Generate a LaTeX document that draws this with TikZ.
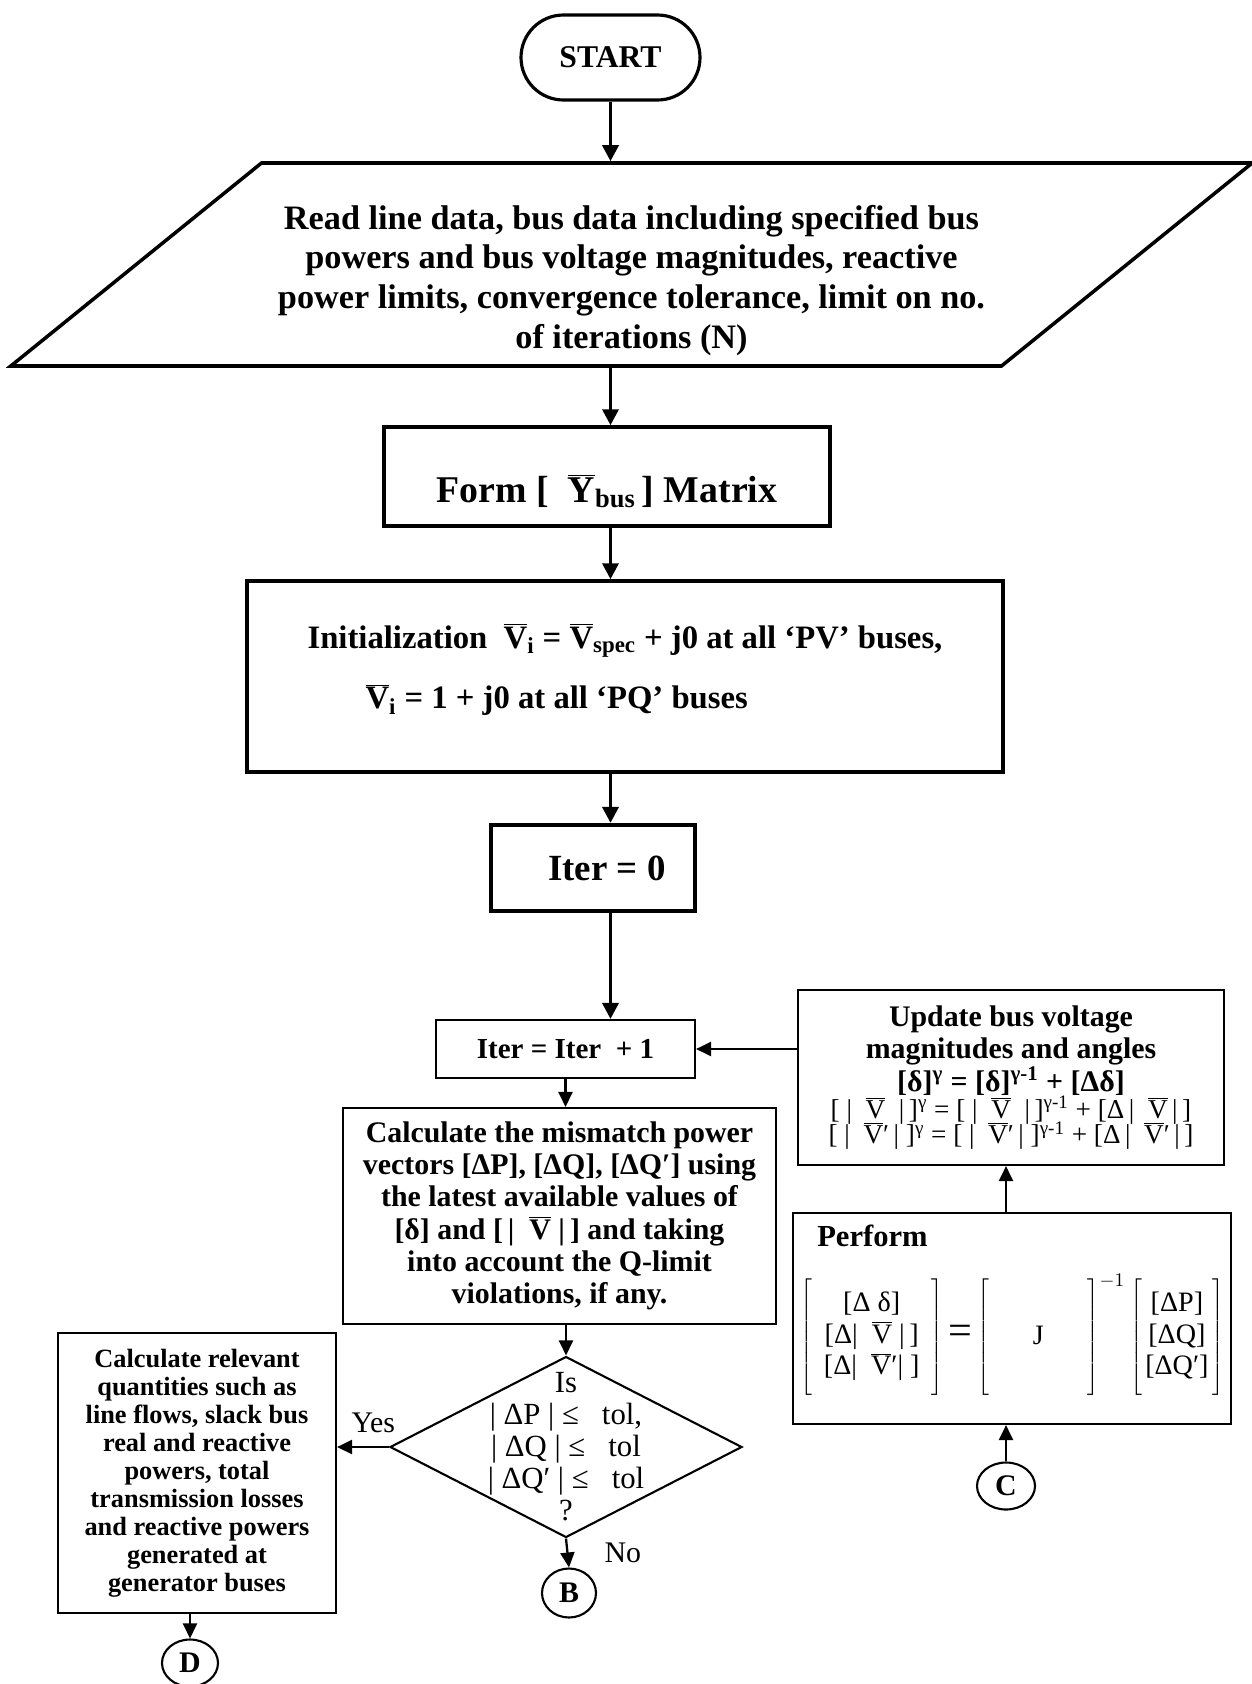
\documentclass[tikz,border=0pt]{standalone}
\usepackage{fontspec}
\setmainfont{Liberation Serif}
\usetikzlibrary{arrows.meta,positioning,shapes.geometric}
\tikzset{startbox/.style={draw, line width=1.8pt, rounded corners=0.85cm, minimum width=3.58cm, minimum height=1.7cm, font=\fontsize{18}{21}\selectfont\bfseries}}
\tikzset{iobox/.style={draw, line width=2pt, trapezium, trapezium left angle=39, trapezium right angle=141, inner xsep=7.4cm, inner ysep=2.03cm}}
\tikzset{iotext/.style={align=center, font=\fontsize{19.5}{22.7}\selectfont\bfseries}}
\tikzset{thickbox/.style={draw, line width=2pt, align=center, font=\fontsize{21}{24}\selectfont\bfseries}}
\tikzset{procbox/.style={draw, line width=1.2pt, align=center, inner sep=0pt, font=\fontsize{17}{18.4}\selectfont\bfseries}}
\tikzset{decision/.style={draw, diamond, line width=1.2pt, inner sep=0pt}}
\tikzset{conn/.style={draw, ellipse, line width=1.2pt, inner sep=0pt, font=\fontsize{17}{20}\selectfont\bfseries}}
\tikzset{lbl/.style={font=\fontsize{17}{20}\selectfont}}
\tikzset{arr/.style={draw, -{Triangle[length=0.32cm, width=0.32cm]}, line width=2pt}}
\tikzset{arrs/.style={draw, -{Triangle[length=0.3cm, width=0.28cm]}, line width=1.3pt}}
\newcommand{\vbar}[1]{\ensuremath{\overline{\mbox{#1}}}}
\newcommand{\tallbr}{\vphantom{\rule[-1.0cm]{0pt}{2.0cm}}}

\begin{document}
\begin{tikzpicture}
        \useasboundingbox (0,0) rectangle (25.02,-33.68);
        \node[startbox] (start) at (12.21,-1.15) {START};
        \node[iobox] (read) at (12.63,-5.29) {};
        \node[iotext] (readtext) at ([yshift=-0.32cm]read.center) {Read line data, bus data including specified bus\\ powers and bus voltage magnitudes, reactive\\ power limits, convergence tolerance, limit on no.\\ of iterations (N)};
        \node[thickbox, minimum width=8.92cm, minimum height=1.98cm, font=\fontsize{21.5}{24}\selectfont\bfseries] (ybus) at (12.14,-9.53) {\rule{0pt}{1.15cm}Form [\ \ \vbar{Y}\textsubscript{bus}\,] Matrix};
        \node[thickbox, minimum width=15.12cm, minimum height=3.82cm, align=left, font=\fontsize{18.6}{34.5}\selectfont\bfseries] (init) at (12.5,-13.53) {Initialization\ \ \vbar{V}\textsubscript{i} = \vbar{V}\textsubscript{spec} + j0 at all `PV' buses,\\ \hspace*{1.16cm}\vbar{V}\textsubscript{i} = 1 + j0 at all `PQ' buses\rule[-0.42cm]{0pt}{0.1pt}};
        \node[thickbox, line width=2.4pt, minimum width=4.08cm, minimum height=1.72cm] (iter0) at (11.86,-17.36) {\hspace*{0.56cm}Iter = 0};

        % iteration loop
        \node[procbox, minimum width=5.18cm, minimum height=1.16cm, font=\fontsize{16.5}{18}\selectfont\bfseries] (iterp) at (11.31,-20.98) {Iter = Iter \ + 1};
        \node[procbox, minimum width=8.66cm, minimum height=4.32cm] (calc) at (11.19,-24.32) {Calculate the mismatch power\\ vectors [ΔP], [ΔQ], [ΔQ′] using\\ the latest available values of\\ {[}δ] and [\,|\ \ \vbar{V}\ |\,] and taking\\ into account the Q-limit\\ violations, if any.};
        \node[decision, minimum width=7.04cm, minimum height=3.62cm] (test) at (11.32,-28.94) {};
        \node[align=center, font=\fontsize{17.5}{18.2}\selectfont] (testtext) at (test) {Is\\ |\ ΔP\ |\ ≤\ \ \ tol,\\ |\ ΔQ\ |\ ≤\ \ \ tol\\ |\ ΔQ′\ |\ ≤\ \ \ tol\\ ?};
        \node[procbox, minimum width=5.56cm, minimum height=5.6cm, font=\fontsize{15}{15.9}\selectfont\bfseries] (relev) at (3.94,-29.46) {Calculate relevant\\ quantities such as\\ line flows, slack bus\\ real and reactive\\ powers, total\\ transmission losses\\ and reactive powers\\ generated at\\ generator buses};
        \node[conn, minimum width=1.08cm, minimum height=0.98cm] (B) at (11.38,-31.86) {B};
        \node[conn, minimum width=1.12cm, minimum height=0.94cm] (D) at (3.8,-33.26) {D};

        \node[procbox, minimum width=8.52cm, minimum height=3.5cm] (update) at (20.22,-21.55) {Update bus voltage\\ magnitudes and angles\\ {[}δ]\textsuperscript{γ} = [δ]\textsuperscript{γ-1} + [Δδ]\\[-3pt] {\mdseries\fontsize{15.5}{16}\selectfont [\ |\ \ \vbar{V}\ \ |\,]\textsuperscript{γ} = [\ |\ \ \vbar{V}\ \ |\,]\textsuperscript{γ-1} + [Δ\,|\ \ \vbar{V}\,|\,]}\\[-4pt] {\mdseries\fontsize{15.5}{16}\selectfont [\ |\ \ \vbar{V}′\,|\ ]\textsuperscript{γ} = [\ |\ \ \vbar{V}′\,|\ ]\textsuperscript{γ-1} + [Δ\,|\ \ \vbar{V}′\,|\,]}};
        \node[procbox, minimum width=8.76cm, minimum height=4.22cm] (perform) at (20.24,-26.37) {};
        \node[anchor=north west, inner sep=0pt, font=\fontsize{17.4}{20}\selectfont\bfseries] (performtitle) at ([xshift=0.5cm, yshift=-0.26cm]perform.north west) {Perform};
        \node[inner sep=0pt, font=\fontsize{16}{18}\selectfont] (jacobian) at ([yshift=-0.32cm]perform.center) {%
          $\left[\tallbr\begin{array}{@{\hspace{0.24cm}}c@{\hspace{0.24cm}}}\mbox{[Δ δ]}\\ \mbox{[Δ|\ \ \vbar{V}\ |\,]}\\ \mbox{[Δ|\ \ \vbar{V}′|\ ]}\end{array}\right]
          \mbox{\fontsize{24}{24}\selectfont =}
          \left[\tallbr\hspace*{0.88cm}\mbox{J}\hspace*{0.88cm}\right]^{-1}
          \left[\tallbr\begin{array}{@{\hspace{2pt}}c@{\hspace{2pt}}}\mbox{[ΔP]}\\ \mbox{[ΔQ]}\\ \mbox{[ΔQ′]}\end{array}\right]$};
        \node[conn, minimum width=1.16cm, minimum height=0.94cm] (C) at (20.12,-29.72) {C};

        \draw[arr] (start.south) -- (start.south |- read.north);
        \draw[arr] (read.south -| start) -- (ybus.north -| start);
        \draw[arr] (ybus.south -| start) -- (init.north -| start);
        \draw[arr] (init.south -| start) -- (iter0.north -| start);
        \draw[arr] (iter0.south -| start) -- (iterp.north -| start);
        \draw[arrs] (iterp.south) -- (iterp.south |- calc.north);
        \draw[arrs] (calc.south -| test) -- (test.north);
        \draw[arrs] (test.west) -- node[lbl, above, pos=0.3, yshift=0.15cm]{Yes} (test.west -| relev.east);
        \draw[arrs] (test.south) -- node[lbl, right, xshift=0.6cm]{No} (B.north);
        \draw[arrs] (relev.south -| D) -- (D.north);
        \draw[arrs] (C.north) -- (C.north |- perform.south);
        \draw[arrs] (perform.north -| C) -- (update.south -| C);
        \draw[arrs] (update.west |- iterp.east) -- (iterp.east);
\end{tikzpicture}
\end{document}
